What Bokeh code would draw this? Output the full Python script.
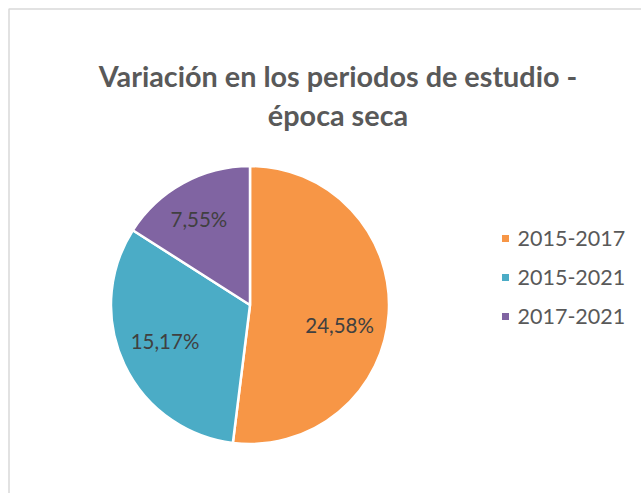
import numpy as np
from bokeh.plotting import figure
from bokeh.models import Range1d, ColumnDataSource
from bokeh.core.properties import value
from bokeh.embed import file_html
from bokeh.resources import INLINE

# ---- data ----
categories = ["2015-2017", "2015-2021", "2017-2021"]
values = [24.58, 15.17, 7.55]
labels = ["24,58%", "15,17%", "7,55%"]
colors = ["#F79646", "#4BACC6", "#8064A2"]
title_lines = ["Variación en los periodos de estudio -", "época seca"]

W, H = 641, 493
p = figure(width=W, height=H, output_backend="svg", toolbar_location=None,
           x_range=Range1d(0, W), y_range=Range1d(0, H), min_border=0)
p.axis.visible = False
p.grid.visible = False
p.outline_line_color = None
p.background_fill_color = "white"

def Y(py):
    return H - py

# chart border
p.quad(left=[8.5], right=[W + 10], top=[Y(8.5)], bottom=[-10],
       fill_color=None, line_color="#D9D9D9", line_width=1.5)

# pie
cx, cy, r = 249.5, Y(304.5), 139
vals = np.array(values, dtype=float)
frac = vals / vals.sum()
cum = np.concatenate([[0], np.cumsum(frac)])
start = np.pi / 2 - 2 * np.pi * cum[:-1]
end = np.pi / 2 - 2 * np.pi * cum[1:]
src = ColumnDataSource(dict(start=start, end=end, color=colors, cat=categories))
p.wedge(x=cx, y=cy, radius=r, start_angle="start", end_angle="end",
        direction="clock", fill_color="color", line_color="white",
        line_width=2.5, source=src)

# data labels
mid = (start + end) / 2
lr = 0.66 * r
lx = cx + lr * np.cos(mid)
ly = cy + lr * np.sin(mid)
lx_adj = [-2, -2, -7]
ly_adj = [-14, 3, 6]
p.text(x=list(lx + np.array(lx_adj)), y=list(ly + np.array(ly_adj)), text=labels,
       text_font=value("Lato"), text_font_size="20.5px", text_color="#404040",
       text_align="center", text_baseline="middle")

# title
p.text(x=[337.5, 337.5], y=[Y(75), Y(114)], text=title_lines,
       text_font=value("Lato"), text_font_size="28.8px", text_font_style="bold",
       text_color="#595959", text_align="center", text_baseline="middle")

# legend
leg_y = [238, 277, 316]
p.rect(x=[505] * 3, y=[Y(v) for v in leg_y], width=7, height=7,
       fill_color=colors, line_color=None)
p.text(x=[517] * 3, y=[Y(v) for v in leg_y], text=categories,
       text_font=value("Lato"), text_font_size="21.5px", text_color="#595959",
       text_align="left", text_baseline="middle")

open("out.html", "w").write(file_html(p, INLINE))
